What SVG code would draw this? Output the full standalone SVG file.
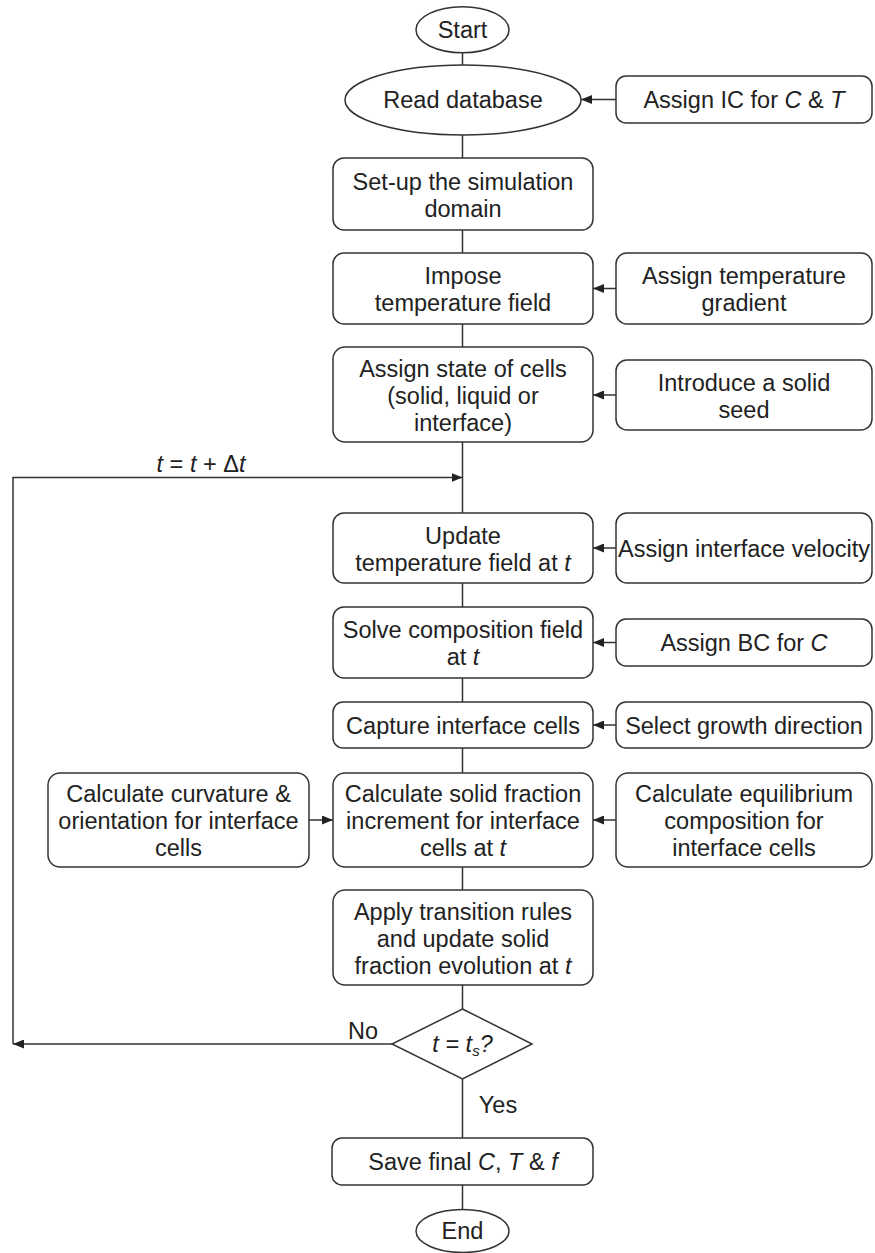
<svg xmlns="http://www.w3.org/2000/svg" width="875" height="1253" viewBox="0 0 875 1253">
<defs>
<marker id="ah" markerWidth="11" markerHeight="9" refX="11" refY="4.5" orient="auto" markerUnits="userSpaceOnUse">
<path d="M0,0 L11,4.5 L0,9 z" fill="#222"/>
</marker>
<style>
.n{fill:#fff;stroke:#333;stroke-width:1.5}
.t{font-family:"Liberation Sans",Arial,sans-serif;font-size:23.5px;fill:#222;text-anchor:middle}
.i{font-style:italic}
.c{fill:none;stroke:#333;stroke-width:1.5}
.a{fill:none;stroke:#333;stroke-width:1.5;marker-end:url(#ah)}
</style>
</defs>
<rect width="875" height="1253" fill="#fff"/>
<g id="connectors">
<line class="c" x1="462.5" y1="52.5" x2="462.5" y2="65"/>
<line class="c" x1="462.5" y1="135" x2="462.5" y2="158"/>
<line class="c" x1="462.5" y1="230" x2="462.5" y2="253"/>
<line class="c" x1="462.5" y1="324" x2="462.5" y2="347"/>
<line class="c" x1="462.5" y1="442" x2="462.5" y2="513"/>
<line class="c" x1="462.5" y1="583" x2="462.5" y2="607"/>
<line class="c" x1="462.5" y1="678" x2="462.5" y2="702"/>
<line class="c" x1="462.5" y1="748" x2="462.5" y2="773"/>
<line class="c" x1="462.5" y1="867" x2="462.5" y2="890"/>
<line class="c" x1="462.5" y1="985" x2="462.5" y2="1009"/>
<line class="c" x1="462.5" y1="1079" x2="462.5" y2="1138"/>
<line class="c" x1="462.5" y1="1185" x2="462.5" y2="1209"/>
<line class="a" x1="616" y1="99.5" x2="581" y2="99.5"/>
<line class="a" x1="616" y1="288.5" x2="593" y2="288.5"/>
<line class="a" x1="616" y1="395" x2="593" y2="395"/>
<line class="a" x1="616" y1="548" x2="593" y2="548"/>
<line class="a" x1="616" y1="642.5" x2="593" y2="642.5"/>
<line class="a" x1="616" y1="725" x2="593" y2="725"/>
<line class="a" x1="616" y1="820" x2="593" y2="820"/>
<line class="a" x1="309" y1="820" x2="333" y2="820"/>
<line class="a" x1="392" y1="1044" x2="13" y2="1044"/>
<path class="a" d="M13,1044 L13,477.5 L462.5,477.5"/>
<text class="t i" x="201" y="472">t<tspan font-style="normal"> = </tspan>t<tspan font-style="normal"> + Δ</tspan>t</text>
<text class="t" x="363" y="1039">No</text>
<text class="t" x="498" y="1113">Yes</text>
</g>
<g id="start"><ellipse class="n" cx="462.5" cy="29.7" rx="46.5" ry="23"/><text class="t" x="462.5" y="38">Start</text></g>
<g id="read"><ellipse class="n" cx="463" cy="100" rx="118" ry="35"/><text class="t" x="463" y="108">Read database</text></g>
<g id="assign-ic"><rect class="n" x="616" y="76" width="256" height="47" rx="10"/><text class="t" x="744" y="107.5">Assign IC for <tspan class="i">C</tspan> &amp; <tspan class="i">T</tspan></text></g>
<g id="setup"><rect class="n" x="333" y="158" width="260" height="72" rx="11"/><text class="t" x="463" y="189.5">Set-up the simulation</text><text class="t" x="463" y="216.5">domain</text></g>
<g id="impose"><rect class="n" x="333" y="253" width="260" height="71" rx="11"/><text class="t" x="463" y="284">Impose</text><text class="t" x="463" y="311">temperature field</text></g>
<g id="assign-grad"><rect class="n" x="616" y="253" width="256" height="71" rx="11"/><text class="t" x="744" y="284">Assign temperature</text><text class="t" x="744" y="311">gradient</text></g>
<g id="assign-state"><rect class="n" x="333" y="347" width="260" height="95" rx="12"/><text class="t" x="463" y="376.5">Assign state of cells</text><text class="t" x="463" y="403.5">(solid, liquid or</text><text class="t" x="463" y="430.5">interface)</text></g>
<g id="seed"><rect class="n" x="616" y="360" width="256" height="70" rx="11"/><text class="t" x="744" y="390.5">Introduce a solid</text><text class="t" x="744" y="417.5">seed</text></g>
<g id="update"><rect class="n" x="333" y="513" width="260" height="70" rx="11"/><text class="t" x="463" y="543.5">Update</text><text class="t" x="463" y="570.5">temperature field at <tspan class="i">t</tspan></text></g>
<g id="velocity"><rect class="n" x="616" y="513" width="256" height="70" rx="11"/><text class="t" x="744" y="556.5">Assign interface velocity</text></g>
<g id="solve"><rect class="n" x="333" y="607" width="260" height="71" rx="11"/><text class="t" x="463" y="638">Solve composition field</text><text class="t" x="463" y="665">at <tspan class="i">t</tspan></text></g>
<g id="bc"><rect class="n" x="616" y="619" width="256" height="47" rx="10"/><text class="t" x="744" y="651">Assign BC for <tspan class="i">C</tspan></text></g>
<g id="capture"><rect class="n" x="333" y="702" width="260" height="46" rx="10"/><text class="t" x="463" y="733.5">Capture interface cells</text></g>
<g id="growth"><rect class="n" x="616" y="702" width="256" height="46" rx="10"/><text class="t" x="744" y="733.5">Select growth direction</text></g>
<g id="curvature"><rect class="n" x="48" y="773" width="261" height="94" rx="12"/><text class="t" x="178.5" y="802">Calculate curvature &amp;</text><text class="t" x="178.5" y="829">orientation for interface</text><text class="t" x="178.5" y="856">cells</text></g>
<g id="solid-fraction"><rect class="n" x="333" y="773" width="260" height="94" rx="12"/><text class="t" x="463" y="802">Calculate solid fraction</text><text class="t" x="463" y="829">increment for interface</text><text class="t" x="463" y="856">cells at <tspan class="i">t</tspan></text></g>
<g id="equilibrium"><rect class="n" x="616" y="773" width="256" height="94" rx="12"/><text class="t" x="744" y="802">Calculate equilibrium</text><text class="t" x="744" y="829">composition for</text><text class="t" x="744" y="856">interface cells</text></g>
<g id="apply"><rect class="n" x="333" y="890" width="260" height="95" rx="12"/><text class="t" x="463" y="919.5">Apply transition rules</text><text class="t" x="463" y="946.5">and update solid</text><text class="t" x="463" y="973.5">fraction evolution at <tspan class="i">t</tspan></text></g>
<g id="decision"><polygon class="n" points="462.5,1009 532,1044 462.5,1079 392,1044"/><text class="t i" x="462.5" y="1052">t = t<tspan font-size="15" dy="4">s</tspan><tspan dy="-4">?</tspan></text></g>
<g id="save"><rect class="n" x="332" y="1138" width="261" height="47" rx="10"/><text class="t" x="463" y="1170">Save final <tspan class="i">C</tspan>, <tspan class="i">T</tspan> &amp; <tspan class="i">f</tspan></text></g>
<g id="end"><ellipse class="n" cx="462.5" cy="1231" rx="46.5" ry="21.5"/><text class="t" x="462.5" y="1239">End</text></g>
</svg>
